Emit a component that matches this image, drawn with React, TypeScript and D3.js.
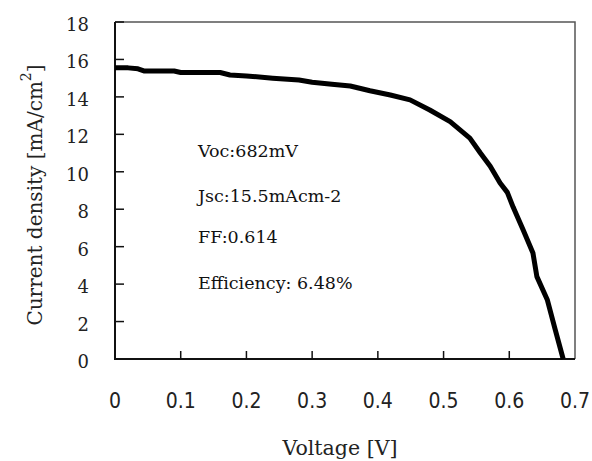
import React, { useRef, useEffect } from "react";
import * as d3 from "d3";

// J-V curve
const voltage = [
  0, 0.02, 0.035, 0.045, 0.09, 0.1, 0.16, 0.175, 0.2, 0.24, 0.28, 0.3, 0.33,
  0.358, 0.388, 0.419, 0.449, 0.479, 0.51, 0.54, 0.556, 0.571, 0.586, 0.597,
  0.606, 0.621, 0.636, 0.642, 0.658, 0.67, 0.682,
];
const current = [
  15.55, 15.55, 15.5, 15.38, 15.38, 15.3, 15.3, 15.17, 15.12, 15.0, 14.9,
  14.78, 14.67, 14.58, 14.33, 14.1, 13.84, 13.3, 12.68, 11.8, 11.0, 10.3, 9.4,
  8.9, 8.1, 6.9, 5.66, 4.4, 3.15, 1.55, 0,
];
const xTicks = [0, 0.1, 0.2, 0.3, 0.4, 0.5, 0.6, 0.7];
const yTicks = [0, 2, 4, 6, 8, 10, 12, 14, 16, 18];
const notes = ["Voc:682mV", "Jsc:15.5mAcm-2", "FF:0.614", "Efficiency: 6.48%"];
const noteBaselines = [157, 202, 243, 289];

const JVChart = () => {
  const ref = useRef<SVGSVGElement>(null);
  const width = 592;
  const height = 461;
  const left = 115;
  const right = 575;
  const top = 22;
  const bottom = 359;

  useEffect(() => {
    const svg = d3.select(ref.current);
    svg.selectAll("*").remove();

    const x = d3.scaleLinear().domain([0, 0.7]).range([left, right]);
    const y = d3.scaleLinear().domain([0, 18]).range([bottom, top]);

    svg.append("rect").attr("width", width).attr("height", height).attr("fill", "#fff");

    // top + right frame (thin gray)
    svg
      .append("path")
      .attr("d", `M${left},${top}H${right}V${bottom}`)
      .attr("fill", "none")
      .attr("stroke", "#555")
      .attr("stroke-width", 1.5);

    // left + bottom axes
    svg
      .append("path")
      .attr("d", `M${left},${top}V${bottom}H${right}`)
      .attr("fill", "none")
      .attr("stroke", "#111")
      .attr("stroke-width", 2);

    // y ticks (inward)
    svg
      .append("g")
      .selectAll("line")
      .data(yTicks.slice(1))
      .enter()
      .append("line")
      .attr("x1", left)
      .attr("x2", left + 9)
      .attr("y1", (d) => y(d))
      .attr("y2", (d) => y(d))
      .attr("stroke", "#111")
      .attr("stroke-width", 1.5);

    svg
      .append("g")
      .selectAll("text")
      .data(yTicks)
      .enter()
      .append("text")
      .attr("x", 89)
      .attr("y", (d) => y(d) + 9)
      .attr("text-anchor", "end")
      .attr("font-family", "'DejaVu Serif', serif")
      .attr("font-size", "18px")
      .attr("fill", "#222")
      .text((d) => d);

    // x ticks (inward)
    svg
      .append("g")
      .selectAll("line")
      .data(xTicks.slice(1, -1))
      .enter()
      .append("line")
      .attr("x1", (d) => x(d))
      .attr("x2", (d) => x(d))
      .attr("y1", bottom)
      .attr("y2", bottom - 8)
      .attr("stroke", "#111")
      .attr("stroke-width", 1.5);

    svg
      .append("g")
      .selectAll("text")
      .data(xTicks)
      .enter()
      .append("text")
      .attr("x", (d) => x(d))
      .attr("y", 408)
      .attr("text-anchor", "middle")
      .attr("font-family", "'DejaVu Sans Condensed', 'DejaVu Sans', sans-serif")
      .attr("font-size", "21px")
      .attr("fill", "#222")
      .text((d) => d3.format(".1~f")(d));

    // axis titles
    svg
      .append("text")
      .attr("x", 340)
      .attr("y", 455)
      .attr("text-anchor", "middle")
      .attr("font-family", "'DejaVu Serif', serif")
      .attr("font-size", "20px")
      .attr("textLength", 115)
      .attr("lengthAdjust", "spacingAndGlyphs")
      .attr("fill", "#222")
      .text("Voltage [V]");

    const yTitle = svg
      .append("text")
      .attr("transform", "translate(42,195) rotate(-90)")
      .attr("text-anchor", "middle")
      .attr("font-family", "'DejaVu Serif', serif")
      .attr("font-size", "20px")
      .attr("fill", "#222");
    yTitle.append("tspan").text("Current density [mA/cm");
    yTitle.append("tspan").attr("dy", -11).attr("font-size", "14px").text("2");
    yTitle.append("tspan").attr("dy", 11).text("]");

    // the curve
    const line = d3
      .line<number>()
      .x((d, i) => x(voltage[i]))
      .y((d) => y(d))
      .curve(d3.curveLinear);

    svg
      .append("path")
      .datum(current)
      .attr("d", line)
      .attr("fill", "none")
      .attr("stroke", "#000")
      .attr("stroke-width", 5)
      .attr("stroke-linejoin", "round");

    // parameters
    svg
      .append("g")
      .selectAll("text")
      .data(notes)
      .enter()
      .append("text")
      .attr("x", 198)
      .attr("y", (d, i) => noteBaselines[i])
      .attr("font-family", "'DejaVu Serif', serif")
      .attr("font-size", "17.5px")
      .attr("fill", "#111")
      .text((d) => d);
  }, []);

  return (
    <svg
      ref={ref}
      width={width}
      height={height}
      style={{ position: "absolute", left: 0, top: 0 }}
    ></svg>
  );
};

export default function App() {
  return <JVChart />;
}
